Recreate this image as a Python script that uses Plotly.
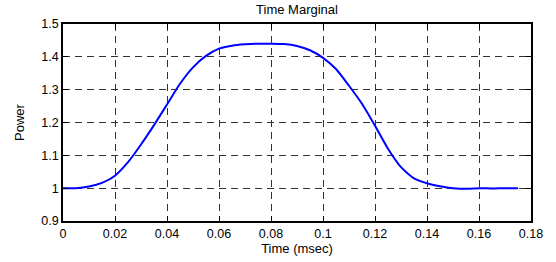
import plotly.graph_objects as go

time_ms = [0, 0.005, 0.01, 0.015, 0.02, 0.025, 0.03, 0.035, 0.04, 0.045, 0.05, 0.055,
           0.06, 0.065, 0.07, 0.075, 0.08, 0.085, 0.09, 0.095, 0.1, 0.105, 0.11, 0.115,
           0.12, 0.125, 0.13, 0.135, 0.14, 0.145, 0.15, 0.155, 0.16, 0.165, 0.17, 0.175]
power = [1.0, 1.0, 1.005, 1.016, 1.038, 1.079, 1.133, 1.192, 1.255, 1.318, 1.368, 1.403,
         1.425, 1.434, 1.438, 1.44, 1.44, 1.439, 1.433, 1.42, 1.397, 1.363, 1.312, 1.257,
         1.19, 1.12, 1.064, 1.03, 1.015, 1.006, 1.0, 0.998, 1.0, 0.999, 1.0, 1.0]

x_ticks = [0, 0.02, 0.04, 0.06, 0.08, 0.1, 0.12, 0.14, 0.16, 0.18]
x_tick_labels = ["0", "0.02", "0.04", "0.06", "0.08", "0.1", "0.12", "0.14", "0.16", "0.18"]
y_ticks = [0.9, 1.0, 1.1, 1.2, 1.3, 1.4, 1.5]
y_tick_labels = ["0.9", "1", "1.1", "1.2", "1.3", "1.4", "1.5"]

FAM = "Liberation Sans, Arial, sans-serif"
tick_font = dict(family=FAM, size=12.5, color="black")
title_font = dict(family=FAM, size=13, color="black")

fig = go.Figure()
fig.add_trace(go.Scatter(x=time_ms, y=power, mode="lines",
                         line=dict(color="#0000ff", width=2, shape="spline", smoothing=0.6)))

axis_common = dict(showline=True, linecolor="black", linewidth=1.5, mirror="ticks",
                   ticks="inside", ticklen=5, tickcolor="black",
                   showgrid=True, gridcolor="#333333", griddash="7px,5px", gridwidth=1,
                   zeroline=False, tickfont=tick_font, automargin=False)

fig.update_layout(
    width=556, height=262,
    margin=dict(l=63, r=25, t=24, b=41),
    paper_bgcolor="white", plot_bgcolor="white",
    showlegend=False,
    title=dict(text="Time Marginal", x=0.5, xanchor="center", xref="paper",
               y=1 - 9 / 262, yanchor="middle", automargin=False, font=title_font),
    xaxis=dict(range=[0, 0.18], tickvals=x_ticks, ticktext=x_tick_labels,
               title=dict(text="Time (msec)", font=title_font, standoff=1), **axis_common),
    yaxis=dict(range=[0.9, 1.5], tickvals=y_ticks, ticktext=y_tick_labels,
               title=dict(text="Power", font=title_font, standoff=14), **axis_common),
)

fig.write_html("out.html", config={"displayModeBar": False},
               post_script="document.body.style.margin='0';")
